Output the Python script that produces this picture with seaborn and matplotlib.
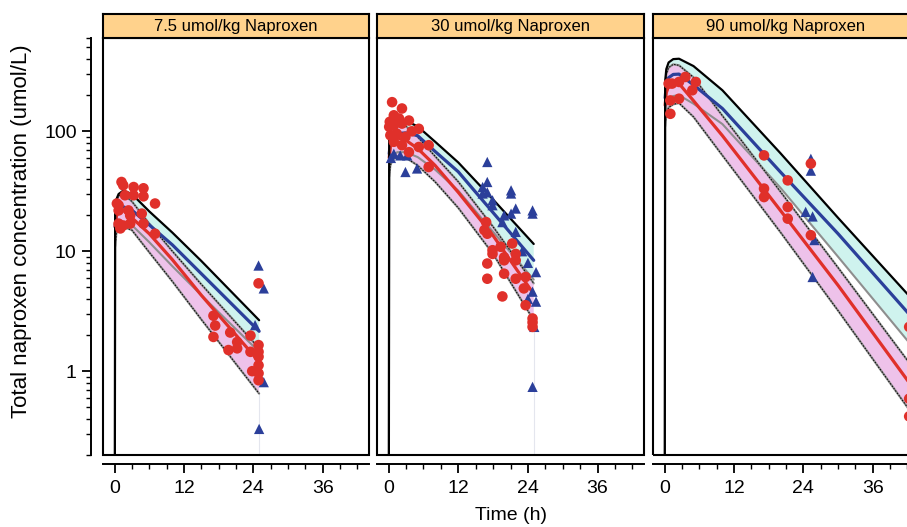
import numpy as np
import pandas as pd
import matplotlib
matplotlib.use("Agg")
import matplotlib.pyplot as plt
import seaborn as sns
from matplotlib.patches import Rectangle
from matplotlib.ticker import FixedLocator, NullFormatter, FixedFormatter

sns.set_theme(style="white")
plt.rcParams["font.family"] = ["Liberation Sans", "DejaVu Sans"]

# ---------------- data ----------------
panel_titles = ["7.5 umol/kg Naproxen", "30 umol/kg Naproxen", "90 umol/kg Naproxen"]

# simulated curves
t_p1 = [0, 0.1, 0.3, 0.7, 1.5, 3, 6, 10, 15, 25]
cyan_up_p1 = [0.001, 22, 27, 30, 32, 30, 21.5, 14.3, 8.3, 2.66]
cyan_lo_p1 = [0.001, 12, 15, 16.5, 17.5, 16.5, 11.9, 7.5, 4.3, 1.45]
blue_med_p1 = [0.001, 16, 20, 22.5, 23.5, 22, 16.6, 11.3, 6.5, 2.15]
pink_up_p1 = [0.001, 21, 26, 29, 30, 26, 17, 10.0, 5.3, 1.55]
red_med_p1 = [0.001, 16, 19.5, 21.5, 22, 19, 14, 8.5, 4.3, 1.2]
pink_lo_p1 = [0.001, 11, 14, 15.5, 16, 15, 9.8, 5.6, 2.7, 0.65]

t_p2 = [0, 0.1, 0.3, 0.7, 1.5, 3, 5, 8, 12, 18, 25]
cyan_up_p2 = [0.001, 85, 105, 118, 124, 122, 110, 82, 55, 27, 11.5]
cyan_lo_p2 = [0.001, 45, 56, 63, 67, 67, 61, 48, 32, 14.5, 5.8]
blue_med_p2 = [0.001, 65, 80, 90, 96, 97, 92, 68, 46, 21, 8.4]
pink_up_p2 = [0.001, 80, 100, 112, 118, 110, 90, 62, 38, 16, 5.4]
red_med_p2 = [0.001, 60, 74, 83, 88, 84, 72, 52, 31, 13.5, 4.4]
pink_lo_p2 = [0.001, 42, 52, 58, 62, 60, 52, 38, 23, 9.5, 2.66]

t_p3 = [0, 0.1, 0.3, 0.7, 1.5, 2.5, 5, 10, 20, 30, 42, 47]
cyan_up_p3 = [0.001, 260, 330, 375, 400, 403, 350, 220, 66, 19, 4.4, 2.3]
cyan_lo_p3 = [0.001, 130, 165, 185, 197, 200, 170, 115, 34, 9.0, 1.8, 0.95]
blue_med_p3 = [0.001, 190, 245, 280, 298, 300, 244, 155, 46, 14, 3.1, 1.65]
pink_up_p3 = [0.001, 235, 300, 340, 362, 355, 282, 135, 31.6, 7.3, 1.23, 0.7]
red_med_p3 = [0.001, 165, 210, 238, 254, 250, 180, 92, 22, 5.2, 0.84, 0.39]
pink_lo_p3 = [0.001, 110, 140, 158, 168, 172, 132, 63, 14.5, 3.2, 0.5, 0.23]

# observations
red_t_p1 = [1.2, 1.5, 3.3, 5.0, 7.0, 1.8, 3.3, 5.0, 0.4, 0.7, 0.7, 2.4, 2.7, 4.7, 0.7, 1.5, 2.7, 5.0, 7.0, 1.0,
            17.1, 17.4, 17.1, 20.0, 19.7, 21.2, 21.2, 23.5, 23.5, 23.8, 24.9, 24.9, 24.9, 24.9, 24.9, 24.9, 24.9]
red_c_p1 = [37.8, 35.5, 34.3, 33.5, 25, 29.3, 29.3, 28.7, 25, 24.2, 21.9, 21.9, 19.9, 20.6, 17, 16.4, 17, 17, 14, 15.5,
            2.9, 2.4, 1.93, 2.1, 1.5, 1.75, 1.55, 1.98, 1.45, 1.0, 5.4, 1.65, 1.32, 1.12, 0.96, 0.84, 1.45]
blue_t_p1 = [24.9, 25.8, 24.3, 25.8, 25.0]
blue_c_p1 = [7.6, 4.9, 2.42, 0.81, 0.33]

red_t_p2 = [0.6, 2.3, 0.9, 0.1, 0.9, 2.3, 3.5, 5.2, 0.3, 1.4, 2.9, 5.2, 6.9, 0.9, 3.5, 6.9, 2.3, 0.2, 1.8, 4.0,
            16.8, 17.0, 17.9, 19.3, 19.9, 21.3, 21.9, 17.0, 17.9, 19.9, 19.9, 21.9, 21.9, 23.6, 23.3, 23.6,
            24.8, 24.8, 17.0, 19.6, 16.5, 24.8]
red_c_p2 = [175, 155, 136, 109, 112, 116, 123, 105, 92.7, 95.6, 90, 74, 76.6, 81.8, 67, 50.4, 76.6, 120, 128, 100,
            17.5, 14, 10.2, 10.9, 8.9, 11.6, 9.5, 7.9, 9.5, 8.4, 6.5, 8.4, 5.9, 6.1, 4.9, 3.55,
            2.75, 2.34, 5.9, 4.2, 15, 2.55]
blue_t_p2 = [0.9, 2.0, 3.2, 2.9, 4.9, 0.4,
             17.0, 17.0, 16.2, 17.0, 17.9, 17.9, 21.1, 21.1, 21.9, 21.1, 19.9, 24.8, 24.8, 19.6, 21.9, 16.2,
             23.0, 24.0, 25.4, 24.8, 24.0, 25.4, 25.1, 24.8]
blue_c_p2 = [65, 63, 63, 45.8, 49, 60,
             55.5, 37.8, 34.3, 31, 26.6, 24.2, 32.2, 30.3, 22.7, 20.6, 19.9, 21.9, 20.6, 17.5, 14.5, 30.3,
             10, 8, 6.7, 4.6, 4.0, 3.8, 2.34, 0.74]

red_t_p3 = [3.6, 2.5, 1.3, 0.7, 5.4, 4.8, 2.5, 1.0, 1.0, 17.2, 21.3, 17.2, 17.2, 21.3, 21.3, 25.3, 25.3,
            42.3, 42.3, 42.3]
red_c_p3 = [284, 258, 250, 250, 258, 220, 187, 181, 140, 63, 39, 33.3, 28.3, 23.4, 18.7, 53.8, 13.6,
            2.34, 0.59, 0.42]
blue_t_p3 = [25.3, 25.3, 24.4, 25.6, 25.9, 25.6]
blue_c_p3 = [59, 47, 21.3, 19.5, 12.4, 6.1]

curves = [
    (t_p1, cyan_up_p1, cyan_lo_p1, blue_med_p1, pink_up_p1, red_med_p1, pink_lo_p1),
    (t_p2, cyan_up_p2, cyan_lo_p2, blue_med_p2, pink_up_p2, red_med_p2, pink_lo_p2),
    (t_p3, cyan_up_p3, cyan_lo_p3, blue_med_p3, pink_up_p3, red_med_p3, pink_lo_p3),
]
obs = [
    (red_t_p1, red_c_p1, blue_t_p1, blue_c_p1),
    (red_t_p2, red_c_p2, blue_t_p2, blue_c_p2),
    (red_t_p3, red_c_p3, blue_t_p3, blue_c_p3),
]
end_line = [True, True, False]

# ---------------- styling ----------------
W, H = 907, 527
fig = plt.figure(figsize=(W / 100, H / 100), dpi=100)
fig.patch.set_facecolor("white")

lefts = [103, 377, 653]
widths = [266, 267, 266]
top_px, bot_px = 38, 455
strip_h = 24

CYAN = "#CFF3EE"
PINK = "#EEC2EA"
BLUE = "#2B3F9A"
RED = "#E0302A"
GRAY = "#8E8E8E"
STRIP = "#FFD28C"

major_y = [1, 10, 100]
minor_y = [0.2, 0.3, 0.4, 0.5, 0.6, 0.7, 0.8, 0.9, 2, 3, 4, 5, 6, 7, 8, 9,
           20, 30, 40, 50, 60, 70, 80, 90, 200, 300, 400, 500, 600]
major_x = [0, 12, 24, 36]
minor_x = [3, 6, 9, 15, 18, 21, 27, 30, 33, 39, 42]

for i in range(3):
    L, w = lefts[i], widths[i]
    ax = fig.add_axes([L / W, (H - bot_px) / H, w / W, (bot_px - top_px) / H])
    ax.set_facecolor("white")
    t, cu, cl, bm, pu, rm, pl = curves[i]

    ax.fill_between(t, cl, cu, color=CYAN, lw=0, zorder=1)
    ax.fill_between(t, pl, pu, color=PINK, lw=0, zorder=1.1)

    df = pd.DataFrame({"t": t, "cu": cu, "cl": cl, "bm": bm, "pu": pu, "rm": rm, "pl": pl})
    dfm = df.iloc[1:]  # medians start after dosing
    sns.lineplot(data=df, x="t", y="cl", color=GRAY, lw=1.5, ax=ax, estimator=None, sort=False, zorder=2)
    for col in ["pu", "pl"]:
        sns.lineplot(data=dfm, x="t", y=col, color=GRAY, lw=1.6, ax=ax, estimator=None, sort=False, zorder=2.1)
        sns.lineplot(data=dfm, x="t", y=col, color="black", lw=0.7, ax=ax, estimator=None, sort=False,
                     zorder=2.2, linestyle=(0, (1.5, 1.5)))
    sns.lineplot(data=dfm, x="t", y="bm", color=BLUE, lw=2.3, ax=ax, estimator=None, sort=False, zorder=2.5)
    sns.lineplot(data=dfm, x="t", y="rm", color=RED, lw=2.3, ax=ax, estimator=None, sort=False, zorder=2.6)
    sns.lineplot(data=df, x="t", y="cu", color="black", lw=1.6, ax=ax, estimator=None, sort=False, zorder=2.7)

    if end_line[i]:
        ax.plot([t[-1], t[-1]], [pl[-1], 0.001], color="#E4E6EE", lw=0.8, zorder=1.5)

    rt, rc, bt, bc = obs[i]
    sns.scatterplot(x=bt, y=bc, marker="^", color=BLUE, s=55, edgecolor="none", ax=ax, zorder=3)
    sns.scatterplot(x=rt, y=rc, marker="o", color=RED, s=58, edgecolor="none", ax=ax, zorder=3.1)

    ax.set_yscale("log")
    ax.set_ylim(0.2, 600)
    ax.set_xlim(-2, 44)
    ax.set_xlabel("")
    ax.set_ylabel("")

    # panel box
    ax.add_patch(Rectangle((0, 0), 1, 1, transform=ax.transAxes, fill=False, lw=1.5,
                           edgecolor="black", clip_on=False, zorder=10))
    for s in ["top", "right"]:
        ax.spines[s].set_visible(False)
    ax.spines["bottom"].set_position(("outward", 6.3))
    ax.spines["bottom"].set_linewidth(1.4)
    ax.spines["bottom"].set_color("black")

    ax.xaxis.set_major_locator(FixedLocator(major_x))
    ax.xaxis.set_minor_locator(FixedLocator(minor_x))
    ax.xaxis.set_major_formatter(FixedFormatter([str(v) for v in major_x]))
    ax.tick_params(axis="x", which="major", direction="out", length=6.5, width=1.3, colors="black",
                   labelsize=14, pad=5, bottom=True)
    ax.tick_params(axis="x", which="minor", direction="out", length=3.3, width=1.0, colors="black", bottom=True)

    if i == 0:
        ax.spines["left"].set_position(("outward", 8.9))
        ax.spines["left"].set_linewidth(1.4)
        ax.spines["left"].set_color("black")
        ax.yaxis.set_major_locator(FixedLocator(major_y))
        ax.yaxis.set_minor_locator(FixedLocator(minor_y))
        ax.yaxis.set_major_formatter(FixedFormatter(["1", "10", "100"]))
        ax.yaxis.set_minor_formatter(NullFormatter())
        ax.tick_params(axis="y", which="major", direction="out", length=6.5, width=1.3, colors="black",
                       labelsize=14, pad=3.5, left=True)
        ax.tick_params(axis="y", which="minor", direction="out", length=3.5, width=1.0, colors="black", left=True)
    else:
        ax.spines["left"].set_visible(False)
        ax.yaxis.set_major_locator(FixedLocator([]))
        ax.yaxis.set_minor_locator(FixedLocator([]))
        ax.tick_params(axis="y", which="both", left=False, labelleft=False)

    # strip
    sax = fig.add_axes([L / W, (H - top_px) / H, w / W, strip_h / H])
    sax.set_facecolor(STRIP)
    sax.set_xticks([])
    sax.set_yticks([])
    for s in sax.spines.values():
        s.set_visible(True)
        s.set_linewidth(1.5)
        s.set_color("black")
    sax.text(0.5, 0.47, panel_titles[i], transform=sax.transAxes, ha="center", va="center", fontsize=12,
             color="black")

fig.text(22 / W, 1 - 231 / H, "Total naproxen concentration (umol/L)", rotation=90, ha="center", va="center",
         fontsize=16, color="black")
fig.text(511 / W, 1 - 516 / H, "Time (h)", ha="center", va="center", fontsize=14, color="black")

fig.savefig("out.png", dpi=100, facecolor="white")
